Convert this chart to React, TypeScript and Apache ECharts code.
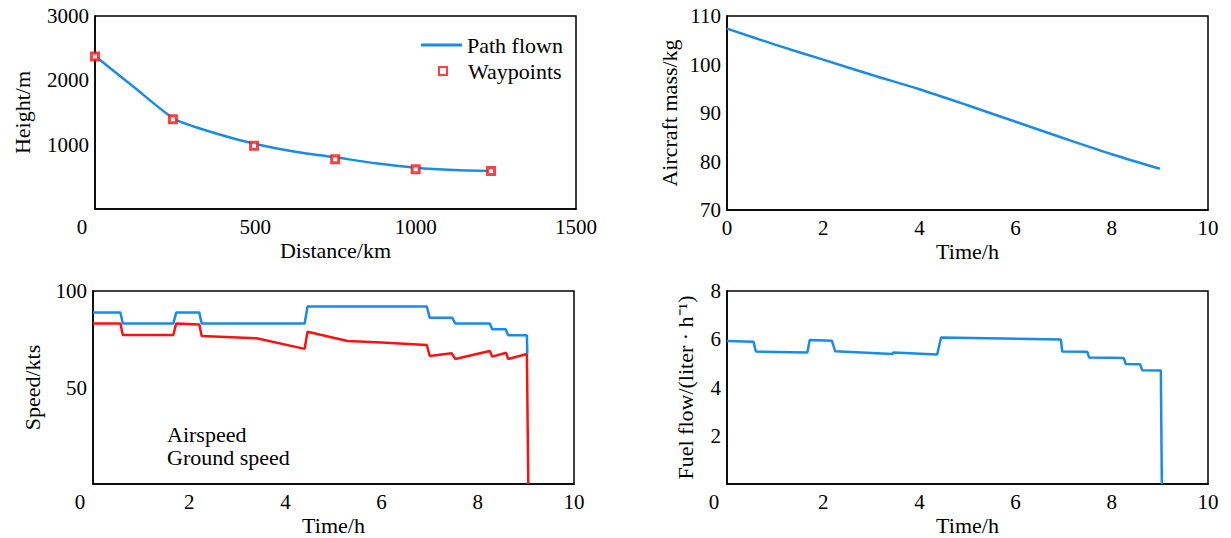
import React, { useEffect, useRef } from 'react';
import * as echarts from 'echarts';

// Panel 1: height profile
const pathDistance = [0, 125, 250, 375, 500, 625, 750, 875, 1000, 1120, 1235];
const pathHeight = [2378, 1880, 1392, 1177, 1010, 891, 803, 710, 642, 606, 592];
const waypointDistance = [0, 243, 496, 749, 1000, 1235];
const waypointHeight = [2370, 1394, 984, 772, 617, 591];

// Panel 2: aircraft mass
const massTime = [0, 1, 2, 3, 4, 5, 6, 7, 8, 9];
const massKg = [107.4, 104.1, 101.0, 97.9, 94.9, 91.6, 88.2, 84.8, 81.5, 78.5];

// Panel 3: speeds
const airspeedTime = [0, 0.57, 0.62, 1.67, 1.73, 2.21, 2.26, 4.4, 4.46, 6.94, 7.0, 7.47, 7.53, 8.25, 8.3, 8.58, 8.63, 9.02, 9.03];
const airspeedKts = [88.8, 88.8, 83.2, 83.2, 88.8, 88.8, 83.2, 83.2, 92.0, 92.0, 86.1, 86.1, 83.2, 83.2, 80.2, 80.2, 77.1, 77.1, 67.6];
const groundTime = [0, 0.57, 0.62, 1.67, 1.73, 2.21, 2.26, 3.4, 4.4, 4.46, 5.29, 6.0, 6.94, 7.0, 7.46, 7.53, 8.25, 8.3, 8.59, 8.63, 9.02, 9.05];
const groundKts = [83.2, 83.2, 77.2, 77.2, 83.2, 82.7, 76.7, 75.5, 70.0, 78.9, 74.1, 73.3, 72.0, 66.3, 67.7, 64.8, 68.9, 66.0, 68.0, 64.8, 67.4, 0];

// Panel 4: fuel flow
const fuelTime = [0, 0.55, 0.6, 1.67, 1.72, 2.18, 2.25, 3.44, 3.46, 4.37, 4.45, 6.94, 6.97, 7.49, 7.53, 8.25, 8.29, 8.59, 8.63, 9.02, 9.04];
const fuelFlow = [5.93, 5.9, 5.49, 5.45, 5.97, 5.94, 5.5, 5.39, 5.45, 5.37, 6.07, 5.99, 5.49, 5.48, 5.24, 5.22, 4.97, 4.96, 4.72, 4.7, 0];

const FONT = '"Liberation Serif", "Times New Roman", serif';
const BLUE = '#1a8be6';
const RED = '#ff1010';

const zip = (xs: number[], ys: number[]) => xs.map((x, i) => [x, ys[i]]);

function makeX(gridIndex: number, min: number, max: number, interval: number, name: string, shiftZero: boolean) {
  return {
    type: 'value', gridIndex, min, max, interval, name,
    nameLocation: 'middle', nameGap: 30,
    nameTextStyle: { fontFamily: FONT, fontSize: 22, color: '#000' },
    axisLine: { show: true, onZero: false, lineStyle: { color: '#000', width: 1.5 } },
    axisTick: { show: false },
    splitLine: { show: false },
    axisLabel: {
      fontFamily: FONT, fontSize: 21, color: '#000', margin: 7,
      formatter: (v: number) => (shiftZero && v === 0 ? '{z|0}' : String(v)),
      rich: { z: { fontFamily: FONT, fontSize: 21, color: '#000', padding: [0, 26, 0, 0] } },
    },
  };
}

function makeY(gridIndex: number, min: number, max: number, interval: number, name: string, nameGap: number, showMin: boolean) {
  return {
    type: 'value', gridIndex, min, max, interval, name,
    nameLocation: 'middle', nameGap, nameRotate: 90,
    nameTextStyle: { fontFamily: FONT, fontSize: 22, color: '#000' },
    axisLine: { show: true, onZero: false, lineStyle: { color: '#000', width: 1.5 } },
    axisTick: { show: false },
    splitLine: { show: false },
    axisLabel: {
      fontFamily: FONT, fontSize: 21, color: '#000', margin: 6, showMinLabel: showMin,
      formatter: (v: number) => String(v),
    },
  };
}

export default function App() {
  const ref = useRef<HTMLDivElement>(null);
  useEffect(() => {
    if (!ref.current) return;
    const chart = echarts.init(ref.current, undefined, { renderer: 'svg' });
    const gridStyle = { show: true, borderColor: '#000', borderWidth: 1.5, backgroundColor: 'transparent', containLabel: false };
    const option: any = {
      animation: false,
      backgroundColor: '#fff',
      textStyle: { fontFamily: FONT },
      grid: [
        { ...gridStyle, left: 95, top: 16, width: 481, height: 193 },
        { ...gridStyle, left: 727, top: 16, width: 481, height: 194 },
        { ...gridStyle, left: 93, top: 291, width: 481, height: 193 },
        { ...gridStyle, left: 727, top: 291, width: 481, height: 193 },
      ],
      xAxis: [
        makeX(0, 0, 1500, 500, 'Distance/km', true),
        makeX(1, 0, 10, 2, 'Time/h', false),
        makeX(2, 0, 10, 2, 'Time/h', true),
        makeX(3, 0, 10, 2, 'Time/h', true),
      ],
      yAxis: [
        makeY(0, 0, 3000, 1000, 'Height/m', 62, false),
        makeY(1, 70, 110, 10, 'Aircraft mass/kg', 47, true),
        makeY(2, 0, 100, 50, 'Speed/kts', 50, false),
        makeY(3, 0, 8, 2, 'Fuel flow/(liter · h⁻¹)', 31, false),
      ],
      legend: [
        {
          data: [{ name: 'Path flown', icon: 'rect' }], left: 416, top: 29, itemWidth: 41, itemHeight: 3,
          textStyle: { fontFamily: FONT, fontSize: 22, color: '#000' },
        },
        {
          data: ['Waypoints'], left: 433, top: 55, itemWidth: 8, itemHeight: 8,
          textStyle: { fontFamily: FONT, fontSize: 22, color: '#000', padding: [0, 0, 0, 16] },
        },
      ],
      graphic: [
        { type: 'text', x: 167, y: 434, style: { text: 'Airspeed', fontFamily: FONT, fontSize: 22, fill: '#000', verticalAlign: 'middle' } },
        { type: 'text', x: 167, y: 457, style: { text: 'Ground speed', fontFamily: FONT, fontSize: 22, fill: '#000', verticalAlign: 'middle' } },
      ],
      series: [
        {
          name: 'Path flown', type: 'line', xAxisIndex: 0, yAxisIndex: 0,
          data: zip(pathDistance, pathHeight), symbol: 'none', smooth: 0.2,
          lineStyle: { color: BLUE, width: 2.5 }, itemStyle: { color: BLUE },
        },
        {
          name: 'Waypoints', type: 'scatter', xAxisIndex: 0, yAxisIndex: 0,
          data: zip(waypointDistance, waypointHeight), symbol: 'rect', symbolSize: 7,
          itemStyle: { color: '#fff', borderColor: RED, borderWidth: 3 }, z: 5,
        },
        {
          name: 'Aircraft mass', type: 'line', xAxisIndex: 1, yAxisIndex: 1,
          data: zip(massTime, massKg), symbol: 'none', smooth: 0.3,
          lineStyle: { color: BLUE, width: 2.5 },
        },
        {
          name: 'Airspeed', type: 'line', xAxisIndex: 2, yAxisIndex: 2,
          data: zip(airspeedTime, airspeedKts), symbol: 'none',
          lineStyle: { color: BLUE, width: 2.5 },
        },
        {
          name: 'Ground speed', type: 'line', xAxisIndex: 2, yAxisIndex: 2,
          data: zip(groundTime, groundKts), symbol: 'none',
          lineStyle: { color: RED, width: 2.5 },
        },
        {
          name: 'Fuel flow', type: 'line', xAxisIndex: 3, yAxisIndex: 3,
          data: zip(fuelTime, fuelFlow), symbol: 'none',
          lineStyle: { color: BLUE, width: 2.5 },
        },
      ],
    };
    chart.setOption(option);
    return () => chart.dispose();
  }, []);
  return <div ref={ref} style={{ position: 'fixed', left: 0, top: 0, width: 1231, height: 538 }} />;
}
